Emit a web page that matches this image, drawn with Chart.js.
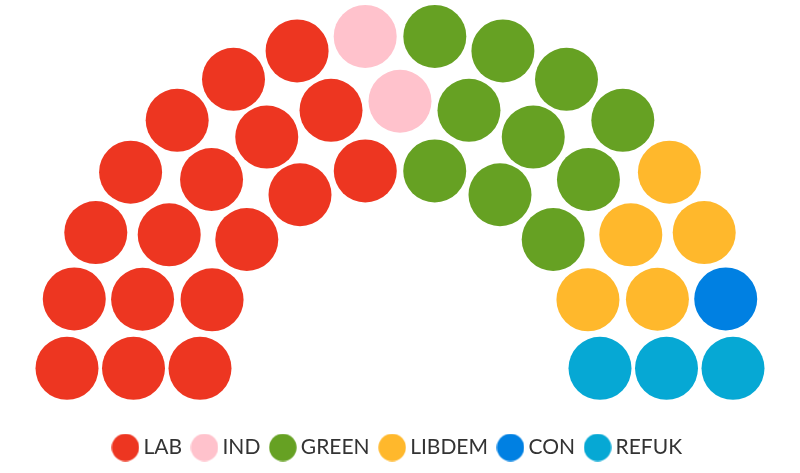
<!DOCTYPE html>
<html>
<head>
<meta charset="utf-8">
<script src="https://cdn.jsdelivr.net/npm/chart.js@4"></script>
<style>
  html, body { margin: 0; padding: 0; background: #fff; }
  #wrap { width: 800px; height: 473px; position: relative; }
</style>
</head>
<body>
<div id="wrap"><canvas id="seatChart"></canvas></div>
<script>
// party data
const parties = ['LAB', 'IND', 'GREEN', 'LIBDEM', 'CON', 'REFUK'];
const seats = [18, 2, 10, 5, 1, 3];
const colors = ['#ED3621', '#FFC2CC', '#66A123', '#FFB82C', '#0080E2', '#06A8D4'];

// layout of the half ring (in pixels of the chart area)
const innerRadius = 200;
const outerRadius = 333;
const rowCount = 3;
const seatRadius = 31.5;

function buildSeats() {
    const total = seats.reduce((a, b) => a + b, 0);
    const radii = [];
    for (let i = 0; i < rowCount; i++) {
        radii.push(innerRadius + (outerRadius - innerRadius) * i / (rowCount - 1));
    }
    const radSum = radii.reduce((a, b) => a + b, 0);
    let counts = radii.map(r => Math.round(total * r / radSum));
    let diff = total - counts.reduce((a, b) => a + b, 0);
    counts[counts.length - 1] += diff;

    const spots = [];
    radii.forEach((r, row) => {
        const n = counts[row];
        for (let i = 0; i < n; i++) {
            const angle = Math.PI - Math.PI * i / (n - 1);
            spots.push({ angle, x: r * Math.cos(angle), y: r * Math.sin(angle) });
        }
    });
    spots.sort((a, b) => b.angle - a.angle);

    const out = parties.map(() => []);
    let k = 0;
    seats.forEach((n, p) => {
        for (let i = 0; i < n; i++) {
            const s = spots[k++];
            out[p].push({ x: s.x, y: s.y });
        }
    });
    return out;
}

// round legend marker, a bit bigger than its legend box
function dot(color) {
    const c = document.createElement('canvas');
    c.width = 28;
    c.height = 28;
    const ctx = c.getContext('2d');
    ctx.fillStyle = color;
    ctx.beginPath();
    ctx.arc(14, 14, 13.7, 0, Math.PI * 2);
    ctx.fill();
    return c;
}

const seatPoints = buildSeats();
const dots = colors.map(dot);

new Chart(document.getElementById('seatChart'), {
    type: 'scatter',
    data: {
        datasets: parties.map((name, i) => ({
            label: name,
            data: seatPoints[i],
            backgroundColor: colors[i],
            borderColor: colors[i],
            borderWidth: 0,
            pointRadius: seatRadius,
            pointHoverRadius: seatRadius,
            pointStyle: 'circle',
            clip: false
        }))
    },
    options: {
        responsive: true,
        maintainAspectRatio: false,
        animation: false,
        layout: { padding: { bottom: 5 }, autoPadding: false },
        scales: {
            x: { display: false, min: -400, max: 400 },
            y: { display: false, min: -53.5, max: 367.5 }
        },
        plugins: {
            tooltip: { enabled: false },
            legend: {
                position: 'bottom',
                labels: {
                    usePointStyle: true,
                    boxWidth: 15,
                    boxHeight: 15,
                    padding: 15,
                    color: '#333333',
                    font: { family: 'Lato', size: 21 },
                    generateLabels(chart) {
                        const items = Chart.defaults.plugins.legend.labels.generateLabels(chart);
                        items.forEach(it => { it.pointStyle = dots[it.datasetIndex]; });
                        return items;
                    }
                }
            }
        }
    }
});
</script>
</body>
</html>
